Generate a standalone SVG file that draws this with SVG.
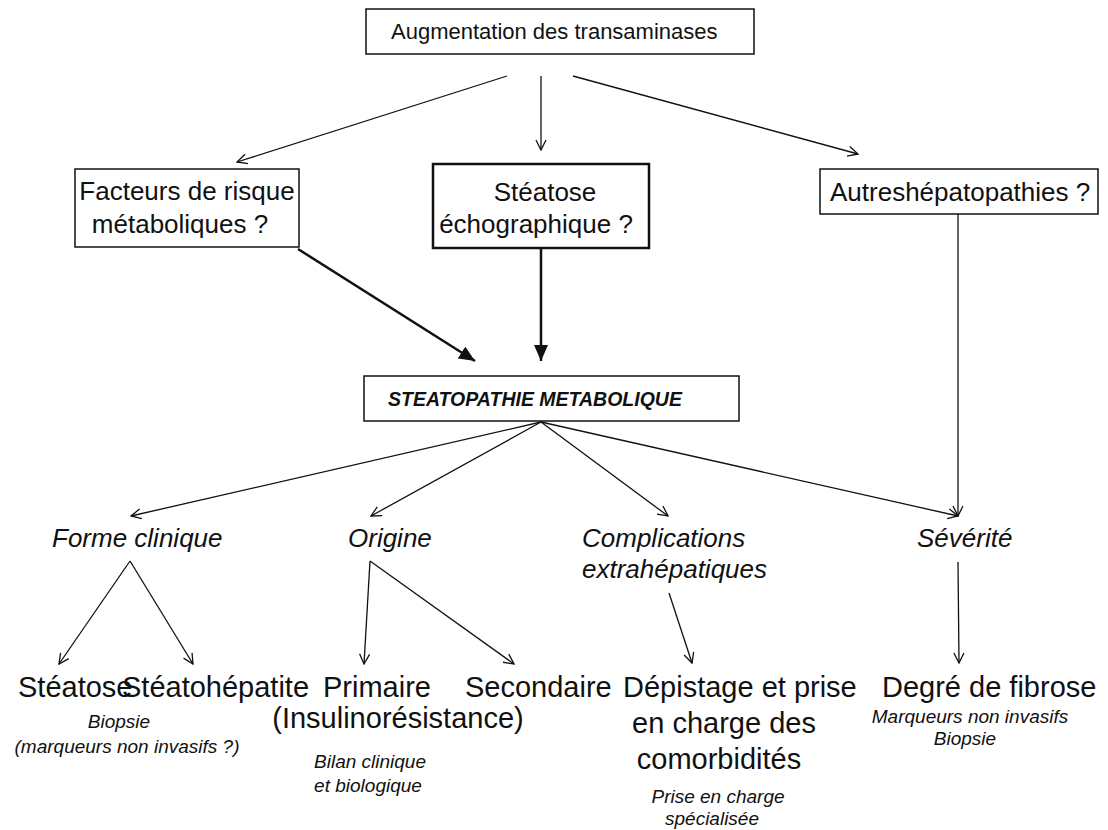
<svg xmlns="http://www.w3.org/2000/svg" width="1108" height="830" viewBox="0 0 1108 830">
<style>
text{font-family:"Liberation Sans",Arial,sans-serif;fill:#111}
.box{fill:#fff;stroke:#111;stroke-width:1.5}
.thickbox{fill:#fff;stroke:#111;stroke-width:2.5}
.thin{fill:none;stroke:#111;stroke-width:1.3}
.thick{fill:none;stroke:#111;stroke-width:2.5}
.it{font-style:italic}
.m{text-anchor:middle}
</style>
<defs>
<marker id="open" viewBox="0 0 12 12" refX="11" refY="6" markerWidth="12" markerHeight="12" markerUnits="userSpaceOnUse" orient="auto"><path d="M1,1 L11,6 L1,11" fill="none" stroke="#111" stroke-width="1.3"/></marker>
<marker id="filled" viewBox="0 0 16 14" refX="16" refY="7" markerWidth="16" markerHeight="14" markerUnits="userSpaceOnUse" orient="auto"><path d="M0,0 L16,7 L0,14 Z" fill="#111"/></marker>
</defs>
<g id="connectors">
<line class="thin" x1="507" y1="76" x2="237" y2="162" marker-end="url(#open)"/>
<line class="thin" x1="541" y1="76" x2="541" y2="150" marker-end="url(#open)"/>
<line class="thin" x1="573" y1="76" x2="858" y2="154" marker-end="url(#open)"/>
<line class="thick" x1="298" y1="249" x2="475" y2="361" marker-end="url(#filled)"/>
<line class="thick" x1="541" y1="249" x2="541" y2="361" marker-end="url(#filled)"/>
<line class="thin" x1="958" y1="214" x2="958" y2="516" marker-end="url(#open)"/>
<line class="thin" x1="541" y1="422" x2="131" y2="516" marker-end="url(#open)"/>
<line class="thin" x1="541" y1="422" x2="371" y2="516" marker-end="url(#open)"/>
<line class="thin" x1="541" y1="422" x2="668" y2="516" marker-end="url(#open)"/>
<line class="thin" x1="541" y1="422" x2="958" y2="516" marker-end="url(#open)"/>
<line class="thin" x1="130" y1="561" x2="59" y2="664" marker-end="url(#open)"/>
<line class="thin" x1="130" y1="561" x2="193" y2="664" marker-end="url(#open)"/>
<line class="thin" x1="370" y1="561" x2="364" y2="664" marker-end="url(#open)"/>
<line class="thin" x1="370" y1="561" x2="514" y2="664" marker-end="url(#open)"/>
<line class="thin" x1="669" y1="593" x2="692" y2="663" marker-end="url(#open)"/>
<line class="thin" x1="958" y1="562" x2="959" y2="663" marker-end="url(#open)"/>
</g>
<g id="n-augmentation">
<rect class="box" x="366" y="9" width="388" height="45"/>
<text x="391" y="39" font-size="22">Augmentation des transaminases</text>
</g>
<g id="n-facteurs">
<rect class="box" x="75" y="169" width="224" height="78"/>
<text class="m" x="187" y="200" font-size="26">Facteurs de risque</text>
<text class="m" x="180" y="233" font-size="26">métaboliques ?</text>
</g>
<g id="n-steatose-echo">
<rect class="thickbox" x="433" y="164" width="216" height="84"/>
<text class="m" x="545" y="201" font-size="26">Stéatose</text>
<text class="m" x="536" y="233" font-size="26">échographique ?</text>
</g>
<g id="n-autres">
<rect class="box" x="820" y="169" width="278" height="45"/>
<text x="830" y="201" font-size="26">Autreshépatopathies ?</text>
</g>
<g id="n-steatopathie">
<rect class="box" x="364" y="376" width="375" height="45"/>
<text x="388" y="406" font-size="19.5" font-weight="bold" font-style="italic">STEATOPATHIE METABOLIQUE</text>
</g>
<g id="n-forme">
<text class="it" x="52" y="547" font-size="26">Forme clinique</text>
</g>
<g id="n-origine">
<text class="it" x="348" y="547" font-size="26">Origine</text>
</g>
<g id="n-complications">
<text class="it" x="582" y="547" font-size="26">Complications</text>
<text class="it" x="582" y="578" font-size="26">extrahépatiques</text>
</g>
<g id="n-severite">
<text class="it" x="917" y="547" font-size="26">Sévérité</text>
</g>
<g id="n-steatose">
<text x="18" y="697" font-size="29">Stéatose</text>
</g>
<g id="n-steatohepatite">
<text x="122" y="697" font-size="29">Stéatohépatite</text>
<text class="it m" x="119" y="728" font-size="19">Biopsie</text>
<text class="it m" x="127" y="753" font-size="19">(marqueurs non invasifs ?)</text>
</g>
<g id="n-primaire">
<text x="323" y="697" font-size="29">Primaire</text>
<text class="m" x="398" y="728" font-size="29">(Insulinorésistance)</text>
<text class="it m" x="370" y="768" font-size="19">Bilan clinique</text>
<text class="it m" x="368" y="792" font-size="19">et biologique</text>
</g>
<g id="n-secondaire">
<text x="465" y="697" font-size="29">Secondaire</text>
</g>
<g id="n-depistage">
<text x="623" y="697" font-size="29">Dépistage et prise</text>
<text class="m" x="724" y="733" font-size="29">en charge des</text>
<text class="m" x="719" y="769" font-size="29">comorbidités</text>
<text class="it m" x="718" y="803" font-size="19">Prise en charge</text>
<text class="it m" x="712" y="825" font-size="19">spécialisée</text>
</g>
<g id="n-degre">
<text x="882" y="697" font-size="29">Degré de fibrose</text>
<text class="it m" x="970" y="723" font-size="19">Marqueurs non invasifs</text>
<text class="it m" x="965" y="745" font-size="19">Biopsie</text>
</g>
</svg>
